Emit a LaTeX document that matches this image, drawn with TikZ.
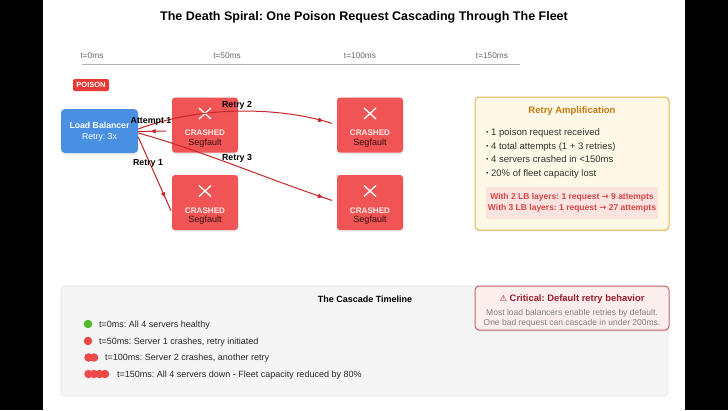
\documentclass[tikz,border=0pt]{standalone}
\usepackage{fontspec}
\setmainfont{Liberation Sans}
\newfontfamily\symfont{DejaVu Sans}
\usetikzlibrary{arrows.meta,decorations.markings,shadows}
\definecolor{lbblue}{HTML}{4A90E2}
\definecolor{crashred}{HTML}{F05454}
\definecolor{wirered}{HTML}{C62828}
\definecolor{badgered}{HTML}{E53935}
\definecolor{panelfill}{HTML}{FEF8E6}
\definecolor{paneldraw}{HTML}{E2B54C}
\definecolor{paneltitle}{HTML}{C67A10}
\definecolor{pinkfill}{HTML}{FBE3E0}
\definecolor{pinktext}{HTML}{D64545}
\definecolor{critfill}{HTML}{FDEEEE}
\definecolor{critdraw}{HTML}{C2646E}
\definecolor{crittitle}{HTML}{9B1C2C}
\definecolor{okgreen}{HTML}{52B82A}
\definecolor{dotred}{HTML}{EF4848}
\newcommand\fsz[1]{\fontsize{#1}{#1}\selectfont}
\newcommand\smallbul{\raisebox{0.15ex}{\scalebox{0.7}{\textbullet}}}
\tikzset{
  >={Triangle[length=5pt,width=4.5pt]},
  midarrow/.style={postaction={decorate},
    decoration={markings,mark=at position #1 with {\arrow{>}}}},
  wire/.style={draw=wirered,line width=1pt},
  wlbl/.style={font=\fsz{8.8}\bfseries,inner sep=0pt},
  tick/.style={font=\fsz{8.3},text=black!60,inner sep=0pt},
  crash/.style={fill=crashred,rounded corners=3pt,minimum width=66pt,
    minimum height=55pt,inner sep=0pt,
    drop shadow={opacity=0.18,shadow xshift=0pt,shadow yshift=-1.5pt}},
  xmark/.style={draw=white,line width=1.3pt},
  crashlbl/.style={font=\fsz{8.1}\bfseries,text=white!88!crashred,inner sep=0pt},
  seglbl/.style={font=\fsz{9},text=black!80!crashred,inner sep=0pt},
  bul/.style={font=\fsz{9.5},text=black!80,inner sep=0pt,anchor=base west},
  item/.style={font=\fsz{9},text=black!85,inner sep=0pt,anchor=base west},
  dot/.style={circle,fill=#1,inner sep=0pt,minimum size=8.5pt},
}
\begin{document}
\frenchspacing
\begin{tikzpicture}[x=1pt,y=-1pt]
  \fill[black] (0,0) rectangle (43,410);
  \fill[black] (685,0) rectangle (728,410);
  \fill[white] (43,0) rectangle (685,410);
  \useasboundingbox (0,0) rectangle (728,410);

  \node[font=\fsz{12.5}\bfseries,inner sep=0pt] (title) at (364,17)
    {The Death Spiral: One Poison Request Cascading Through The Fleet};

  % time axis
  \foreach \t/\x in {0/92,50/227,100/360,150/492}
    \node[tick] (t\t) at (\x,56) {t=\t ms};
  \coordinate (axl) at (82,64);
  \coordinate (axr) at (520,64);
  \draw[black!30,line width=1pt] (axl) -- (axr);

  \node[fill=badgered,rounded corners=2pt,minimum width=36pt,minimum height=12pt,
    inner sep=0pt,text=white,font=\fsz{7.5}\bfseries] (poison) at (91,85) {POISON};

  % load balancer
  \node[fill=lbblue,rounded corners=4pt,minimum width=77pt,minimum height=44pt,
    drop shadow={opacity=0.15,shadow xshift=0pt,shadow yshift=-1.5pt}] (lb) at (99.5,131) {};
  \node[font=\fsz{8.7}\bfseries,text=white,inner sep=0pt] (lbname) at (99.5,125) {Load Balancer};
  \node[font=\fsz{8.7},text=white,inner sep=0pt] (lbretry) at (99.5,137) {Retry: 3x};

  % servers
  \foreach \n/\x/\y in {1/205/125,2/370/125,3/205/202.5,4/370/202.5} {
    \node[crash] (s\n) at (\x,\y) {};
    \draw[xmark] (\x-6,\y-17) -- (\x+6,\y-6) (\x-6,\y-6) -- (\x+6,\y-17);
    \node[crashlbl] (c\n) at (\x,\y+8) {CRASHED};
    \node[seglbl] (g\n) at (\x,\y+18) {Segfault};
  }

  % retries
  \coordinate (a1) at (166,131);
  \draw[wire,midarrow=0.55] (a1) -- ([yshift=-0.5pt]lb.east);
  \draw[wire,midarrow=0.93,shorten >=5pt] ([yshift=2pt]lb.east)
    .. controls (205,104) and (285,108) .. (s2.west);
  \draw[wire,midarrow=0.93,shorten >=5pt] ([yshift=-2pt]lb.east)
    .. controls (200,150) and (270,180) .. ([yshift=0.5pt]s4.west);
  \draw[wire,midarrow=0.8,shorten >=2pt] ([yshift=-6pt]lb.east) -- ([yshift=-10pt]s3.west);
  \node[wlbl] (l1) at (151,121) {Attempt 1};
  \node[wlbl] (l2) at (237,105) {Retry 2};
  \node[wlbl] (l3) at (237,158) {Retry 3};
  \node[wlbl] (l4) at (148,163) {Retry 1};

  % amplification panel
  \node[fill=panelfill,draw=paneldraw,line width=1pt,rounded corners=4pt,
    minimum width=194pt,minimum height=133pt,
    drop shadow={opacity=0.12,shadow xshift=0pt,shadow yshift=-1.5pt}] (amp) at (572,163.5) {};
  \node[font=\fsz{9.5}\bfseries,text=paneltitle,inner sep=0pt] (amptitle) at (572,111) {Retry Amplification};
  \foreach \txt [count=\i] in {1 poison request received,
      4 total attempts (1 + 3 retries),4 servers crashed in <150ms,
      20\% of fleet capacity lost}
    \node[bul] (b\i) at (486,122+13.5*\i) {\smallbul\ \txt};
  \node[fill=pinkfill,minimum width=172pt,minimum height=32pt,inner sep=0pt] (mult) at (572,203) {};
  \node[font=\fsz{8.5}\bfseries,text=pinktext,inner sep=0pt] (m2) at (572,197)
    {With 2 LB layers: 1 request {\symfont→} 9 attempts};
  \node[font=\fsz{8.5}\bfseries,text=pinktext,inner sep=0pt] (m3) at (572,208.5)
    {With 3 LB layers: 1 request {\symfont→} 27 attempts};

  % cascade timeline
  \node[fill=black!4,draw=black!10,line width=0.8pt,rounded corners=4pt,
    minimum width=607pt,minimum height=110pt] (casc) at (364.5,341) {};
  \node[font=\fsz{9}\bfseries,inner sep=0pt] (casctitle) at (365,299) {The Cascade Timeline};
  \node[dot=okgreen] (d1) at (88,324) {};
  \node[item] (e1) at (99,327.2) {t=0ms: All 4 servers healthy};
  \node[dot=dotred] (d2) at (88,341) {};
  \node[item] (e2) at (99,344.2) {t=50ms: Server 1 crashes, retry initiated};
  \foreach \k in {0,1} \node[dot=dotred] (d3\k) at (88.5+5.5*\k,357.5) {};
  \node[item] (e3) at (105,360.7) {t=100ms: Server 2 crashes, another retry};
  \foreach \k in {0,...,3} \node[dot=dotred] (d4\k) at (88.5+5.5*\k,374) {};
  \node[item] (e4) at (117,377.2) {t=150ms: All 4 servers down - Fleet capacity reduced by 80\%};

  % critical note
  \node[fill=critfill,draw=critdraw,line width=1pt,rounded corners=4pt,
    minimum width=194pt,minimum height=44pt,
    drop shadow={opacity=0.12,shadow xshift=0pt,shadow yshift=-1.5pt}] (crit) at (572,308) {};
  \node[font=\fsz{9.4}\bfseries,text=crittitle,inner sep=0pt] (crittl) at (572,299)
    {{\symfont\fsz{8.5}⚠} Critical: Default retry behavior};
  \node[font=\fsz{8.5},text=black!50,inner sep=0pt] (cr1) at (572,313) {Most load balancers enable retries by default.};
  \node[font=\fsz{8.5},text=black!50,inner sep=0pt] (cr2) at (572,323) {One bad request can cascade in under 200ms.};
\end{tikzpicture}
\end{document}
